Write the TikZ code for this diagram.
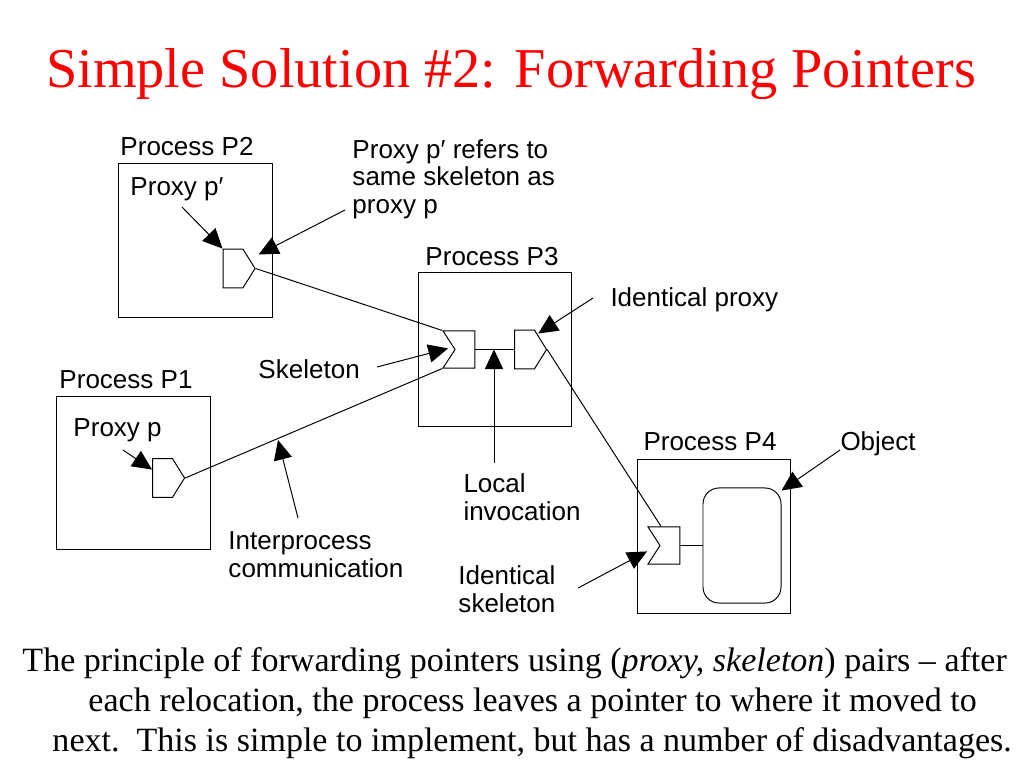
\documentclass[tikz,border=0pt]{standalone}
\usepackage{fontspec}
\setmainfont{Liberation Serif}
\setsansfont{Liberation Sans}
\usetikzlibrary{arrows.meta,shapes.symbols,positioning}

\begin{document}
\begin{tikzpicture}[x=0.025cm,y=-0.025cm,>={Triangle[length=14pt,width=13pt]},line width=0.7pt]
  \tikzstyle{process}=[draw,minimum size=3.83cm,inner sep=0pt]
  \tikzstyle{proxy}=[draw,signal,signal to=east,signal pointer angle=116,minimum width=0.8cm,minimum height=0.97cm,inner sep=0pt]
  \tikzstyle{skel}=[draw,signal,signal to=nowhere,signal from=west,signal pointer angle=114,minimum width=0.8cm,minimum height=0.93cm,inner sep=0pt]
  \tikzstyle{lbl}=[font=\sffamily\fontsize{18.5}{19.5}\selectfont,inner sep=0pt,anchor=base west,align=left]
  \tikzstyle{body}=[font=\fontsize{24.2}{28}\selectfont,inner sep=0pt,anchor=base west]

  \useasboundingbox (0,0) rectangle (1024,768);

  % Title
  \node [font=\fontsize{40}{46}\selectfont,text=red,anchor=base,inner sep=0pt] (title) at (511,88) {Simple Solution \#2: Forwarding Pointers};

  % Processes
  \node [process] (p2) at (195.5,240.5) {};
  \node [process] (p3) at (495,349.5) {};
  \node [process] (p1) at (133.5,473) {};
  \node [process] (p4) at (714,536.5) {};
  \node [lbl] (p2lbl) at (120,155) {Process P2};
  \node [lbl] (p3lbl) at (425,265) {Process P3};
  \node [lbl] (p1lbl) at (59,388) {Process P1};
  \node [lbl] (p4lbl) at (643,450) {Process P4};

  % Proxies, skeletons, object
  \node [proxy] (p2proxy) at (233,268.5) {};
  \node [skel] (p3skel) at (465,349.5) {};
  \node [proxy] (p3proxy) at (524.5,349.5) {};
  \node [proxy] (p1proxy) at (162.5,478) {};
  \node [skel] (p4skel) at (670,545.5) {};
  \node [draw,rounded corners=0.4cm,minimum width=1.95cm,minimum height=2.875cm] (object) at (742,545.5) {};

  % Labels (multi-line ones sit on their last baseline)
  \node [lbl] (pplbl) at (130,195) {Proxy p′};
  \node [lbl] (referlbl) at (352,213) {Proxy p′ refers to\\same skeleton as\\proxy p};
  \node [lbl] (idproxylbl) at (610,306) {Identical proxy};
  \node [lbl] (skellbl) at (258,378) {Skeleton};
  \node [lbl] (plbl) at (73,436) {Proxy p};
  \node [lbl] (objlbl) at (840,450) {Object};
  \node [lbl] (locallbl) at (463,520) {Local\\invocation};
  \node [lbl] (ipclbl) at (228,577) {Interprocess\\communication};
  \node [lbl] (idskellbl) at (458,612) {Identical\\skeleton};

  % Caption
  \node [body] (body1) at (22,671) {The principle of forwarding pointers using (\textit{proxy, skeleton}) pairs – after};
  \node [body] (body2) at (88,711) {each relocation, the process leaves a pointer to where it moved to};
  \node [body] (body3) at (52,751) {next.\ \ This is simple to implement, but has a number of disadvantages.};

  \coordinate (a1) at (182,207);
  \coordinate (a2) at (345,210);
  \coordinate (a3) at (593,298);
  \coordinate (a4) at (377,367);
  \coordinate (a5) at (494,463);
  \coordinate (a6) at (123,450);
  \coordinate (a7) at (298,518);
  \coordinate (a8) at (840,450);
  \coordinate (a9) at (578,588);
  \coordinate (ipc) at (278,440);

  % Connectors
  \draw (p2proxy.east) -- (p3skel.north west);
  \draw (p1proxy.east) -- (p3skel.south west);
  \draw (p3skel.east) -- (p3proxy.west);
  \draw (p3proxy.east) -- ([xshift=0.35cm]p4skel.north west);
  \draw (p4skel.east) -- (object.west);

  % Pointer arrows
  \draw [->] (a1) -- (p2proxy.north west);
  \draw [->] (a2) -- ([shift={(3,-14)}]p2proxy.east);
  \draw [->] (a3) -- ([shift={(-9,-16)}]p3proxy.east);
  \draw [->] (a4) -- ([shift={(6,18)}]p3skel.north west);
  \draw [->] (a5) -- (p3skel.east -| a5);
  \draw [->] (a6) -- ([yshift=6]p1proxy.west);
  \draw [->] (a7) -- (ipc);
  \draw [->] (a8) -- ([shift={(0,-55)}]object.east);
  \draw [->] (a9) -- ([shift={(0,25)}]p4skel.north west);
\end{tikzpicture}
\end{document}
